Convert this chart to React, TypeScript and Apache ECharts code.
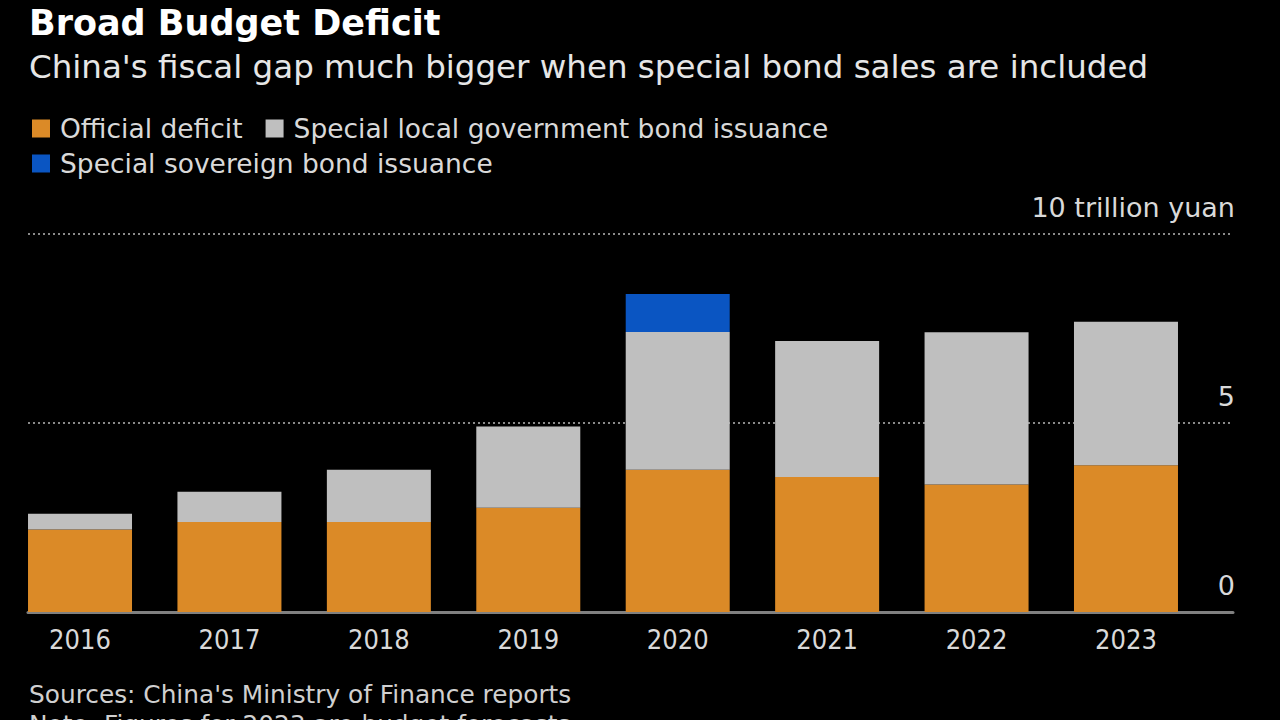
import React, { useEffect, useRef } from "react";
import * as echarts from "echarts";

const years = ["2016", "2017", "2018", "2019", "2020", "2021", "2022", "2023"];
const officialDeficit = [2.18, 2.38, 2.38, 2.76, 3.76, 3.57, 3.37, 3.88];
const specialLocal = [0.42, 0.8, 1.38, 2.15, 3.65, 3.6, 4.03, 3.8];
const specialSovereign = [0, 0, 0, 0, 1.0, 0, 0, 0];
const yTicks = [0, 5, 10];

const FONT = "DejaVu Sans";
const FONT_C = "DejaVu Sans Condensed";

export default function App() {
  const ref = useRef<HTMLDivElement>(null);
  useEffect(() => {
    if (!ref.current) return;
    const chart = echarts.init(ref.current, undefined, { renderer: "svg" });
    chart.setOption({
      animation: false,
      backgroundColor: "#000000",
      textStyle: { fontFamily: FONT },
      title: [
        {
          text: "Broad Budget Deficit",
          left: 24,
          top: 0,
          textStyle: { color: "#ffffff", fontSize: 35, fontWeight: "bold", fontFamily: FONT },
        },
        {
          text: "China's fiscal gap much bigger when special bond sales are included",
          left: 24,
          top: 45,
          textStyle: { color: "#e6e6e6", fontSize: 32.5, fontWeight: "normal", fontFamily: FONT },
        },
        {
          text: "Sources: China's Ministry of Finance reports",
          left: 24,
          top: 677,
          textStyle: { color: "#d0d0d0", fontSize: 24.8, fontWeight: "normal", fontFamily: FONT },
        },
        {
          text: "Note: Figures for 2023 are budget forecasts",
          left: 24,
          top: 707,
          textStyle: { color: "#d0d0d0", fontSize: 24.8, fontWeight: "normal", fontFamily: FONT },
        },
      ],
      legend: [
        {
          data: ["Official deficit", "Special local government bond issuance"],
          left: 32,
          top: 115,
          icon: "rect",
          itemWidth: 18,
          itemHeight: 18,
          itemGap: 23,
          padding: 0,
          textStyle: { color: "#d9d9d9", fontSize: 26.5, fontFamily: FONT, padding: [0, 0, 0, 5] },
        },
        {
          data: ["Special sovereign bond issuance"],
          left: 32,
          top: 150,
          icon: "rect",
          itemWidth: 18,
          itemHeight: 18,
          padding: 0,
          textStyle: { color: "#d9d9d9", fontSize: 26.5, fontFamily: FONT, padding: [0, 0, 0, 5] },
        },
      ],
      grid: [
        { left: 5.3, right: 79.3, top: 234, bottom: 108 },
        { left: 28, right: 47, top: 234, bottom: 108 },
      ],
      xAxis: [
        {
          type: "category",
          gridIndex: 0,
          data: years,
          axisLine: { show: false },
          axisTick: { show: false },
          axisLabel: { color: "#d9d9d9", fontSize: 27, margin: 14, fontFamily: FONT_C },
        },
        {
          type: "value",
          gridIndex: 1,
          min: 0,
          max: 1,
          axisLine: { show: true, onZero: false, lineStyle: { color: "#808080", width: 3 } },
          axisTick: { show: false },
          axisLabel: { show: false },
          splitLine: { show: false },
        },
      ],
      yAxis: [
        {
          type: "value",
          gridIndex: 0,
          min: 0,
          max: 10,
          interval: 5,
          show: false,
        },
        {
          type: "value",
          gridIndex: 1,
          position: "right",
          min: yTicks[0],
          max: yTicks[yTicks.length - 1],
          interval: 5,
          axisLine: { show: false },
          axisTick: { show: false },
          splitLine: { show: true, lineStyle: { color: "#8a8a8a", type: [2, 3], width: 2 } },
          axisLabel: {
            inside: true,
            margin: -2,
            verticalAlign: "bottom",
            padding: [0, 0, 13, 0],
            color: "#d9d9d9",
            fontSize: 27,
            fontFamily: FONT,
            formatter: (v: number) => (v === 10 ? "10 trillion yuan" : String(v)),
          },
        },
      ],
      series: [
        {
          name: "Official deficit",
          type: "bar",
          stack: "total",
          xAxisIndex: 0,
          yAxisIndex: 0,
          barWidth: 104,
          itemStyle: { color: "#db8a27" },
          data: officialDeficit,
          z: 3,
        },
        {
          name: "Special local government bond issuance",
          type: "bar",
          stack: "total",
          xAxisIndex: 0,
          yAxisIndex: 0,
          barWidth: 104,
          itemStyle: { color: "#bfbfbf" },
          data: specialLocal,
          z: 3,
        },
        {
          name: "Special sovereign bond issuance",
          type: "bar",
          stack: "total",
          xAxisIndex: 0,
          yAxisIndex: 0,
          barWidth: 104,
          itemStyle: { color: "#0a55c2" },
          data: specialSovereign,
          z: 3,
        },
      ],
    });
    return () => chart.dispose();
  }, []);
  return (
    <div
      ref={ref}
      style={{ position: "absolute", left: 0, top: 0, width: 1280, height: 720, background: "#000" }}
    />
  );
}
